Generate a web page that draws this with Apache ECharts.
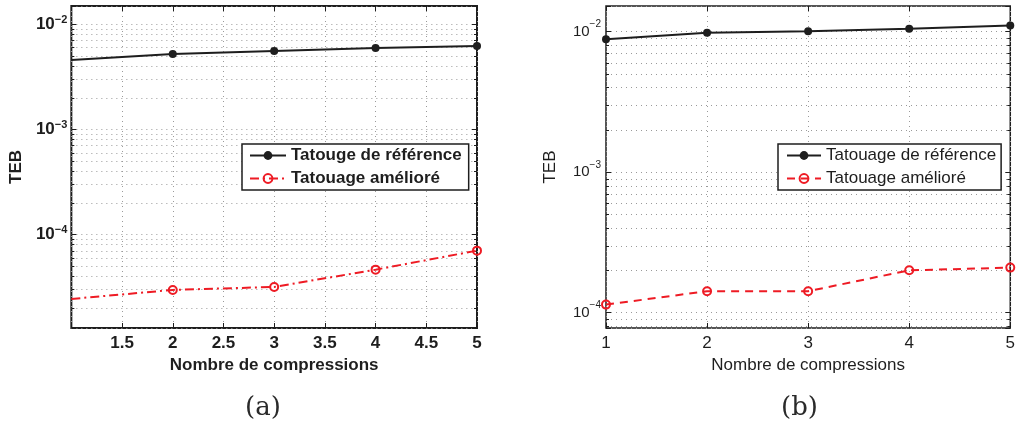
<!DOCTYPE html>
<html>
<head>
<meta charset="utf-8">
<script src="https://cdn.jsdelivr.net/npm/echarts@6/dist/echarts.min.js"></script>
<style>
  html, body { margin: 0; padding: 0; background: #fff; }
  #wrap { position: relative; width: 1018px; height: 430px; }
  #chartA { position: absolute; left: 0; top: 0; width: 509px; height: 430px; }
  #chartB { position: absolute; left: 509px; top: 0; width: 509px; height: 430px; }
</style>
</head>
<body>
<div id="wrap"><div id="chartA"></div><div id="chartB"></div></div>
<script>
// ---- data: bit error rate (TEB) vs. number of compressions ----
const compressionsA = [1, 2, 3, 4, 5];
const referenceA = [4.55e-3, 5.2e-3, 5.57e-3, 5.94e-3, 6.2e-3];
const improvedA = [2.42e-5, 2.95e-5, 3.15e-5, 4.6e-5, 6.98e-5];

const compressionsB = [1, 2, 3, 4, 5];
const referenceB = [8.83e-3, 9.8e-3, 1.006e-2, 1.045e-2, 1.104e-2];
const improvedB = [1.14e-4, 1.42e-4, 1.42e-4, 2.0e-4, 2.09e-4];

const seriesNamesA = ['Tatouge de référence', 'Tatouage amélioré'];
const seriesNamesB = ['Tatouage de référence', 'Tatouage amélioré'];

// tick labels
const xTickLabelsA = ['1.5', '2', '2.5', '3', '3.5', '4', '4.5', '5'];
const xTickLabelsB = ['1', '2', '3', '4', '5'];
const yDecadesA = [-4, -3, -2];
const yDecadesB = [-4, -3, -2];

// axis ranges
const xRangeA = [1, 5];
const xRangeB = [1, 5];
const yRangeA = [1.28e-5, 1.49e-2];
const yRangeB = [7.77e-5, 1.52e-2];

// minor log grid: 2..9 times each decade
const minorSteps = [2, 3, 4, 5, 6, 7, 8, 9];
const minorDecadesA = [-5, -4, -3, -2];
const minorDecadesB = [-5, -4, -3, -2];

const RED = '#ee1b24';
const INK = '#1e1e1e';
const GRID = '#9a9a9a';
const DOTS = [1, 4];
const SANS = '"Liberation Sans", Arial, Helvetica, sans-serif';

function minorValues(decades, range) {
  const out = [];
  decades.forEach(function (d) {
    minorSteps.forEach(function (m) {
      const v = m * Math.pow(10, d);
      if (v > range[0] && v < range[1]) out.push(v);
    });
  });
  return out;
}

function pairs(xs, ys) {
  return xs.map(function (x, i) { return [x, ys[i]]; });
}

function decadeFormatter(decades) {
  return function (v) {
    const e = Math.log10(v);
    const r = Math.round(e);
    if (Math.abs(e - r) > 1e-6 || decades.indexOf(r) < 0) return '';
    return '{b|10}{s|' + (r < 0 ? '\u2212' : '') + Math.abs(r) + '}';
  };
}

// dotted minor grid line across the plot plus short inside ticks on both y sides
function minorGridItem(xRange) {
  return function (params, api) {
    const v = api.value(1);
    const p1 = api.coord([xRange[0], v]);
    const p2 = api.coord([xRange[1], v]);
    const y = Math.round(p1[1]) + 0.5;
    return {
      type: 'group',
      children: [
        { type: 'line', shape: { x1: p1[0], y1: y, x2: p2[0], y2: y },
          style: { stroke: GRID, lineWidth: 1, lineDash: DOTS }, silent: true },
        { type: 'line', shape: { x1: p1[0], y1: y, x2: p1[0] + 3, y2: y },
          style: { stroke: INK, lineWidth: 1 }, silent: true },
        { type: 'line', shape: { x1: p2[0] - 3, y1: y, x2: p2[0], y2: y },
          style: { stroke: INK, lineWidth: 1 }, silent: true }
      ]
    };
  };
}

function buildOption(cfg) {
  const minor = minorValues(cfg.minorDecades, cfg.yRange);
  const tickLabelStyle = {
    fontFamily: SANS, fontSize: cfg.tickSize, fontWeight: cfg.weight, color: INK
  };
  const refData = pairs(cfg.xs, cfg.ref);
  const impData = pairs(cfg.xs, cfg.imp);
  if (cfg.hideFirstMarker) {
    refData[0] = { value: refData[0], symbol: 'none' };
    impData[0] = { value: impData[0], symbol: 'none' };
  }
  const xBase = {
    type: 'value', min: cfg.xRange[0], max: cfg.xRange[1], interval: cfg.xInterval,
    axisLine: { show: false },
    axisTick: { show: true, inside: true, length: 5, lineStyle: { color: INK, width: 1 } }
  };
  const yBase = {
    type: 'log', logBase: 10, min: cfg.yRange[0], max: cfg.yRange[1],
    axisLine: { show: false },
    axisTick: { show: true, inside: true, length: 5, lineStyle: { color: INK, width: 1 } }
  };
  return {
    animation: false,
    backgroundColor: '#fff',
    grid: {
      left: cfg.grid[0], right: cfg.grid[1], top: cfg.grid[2], bottom: cfg.grid[3],
      show: true, borderColor: INK, borderWidth: cfg.border, backgroundColor: '#fff'
    },
    xAxis: [
      Object.assign({}, xBase, {
        position: 'bottom',
        name: 'Nombre de compressions',
        nameLocation: 'middle',
        nameGap: cfg.xNameGap,
        nameTextStyle: { fontFamily: SANS, fontSize: 17, fontWeight: cfg.weight, color: INK },
        axisLabel: {
          margin: cfg.xLabelMargin,
          fontFamily: SANS, fontSize: 17, fontWeight: cfg.weight, color: INK,
          formatter: function (v) {
            const s = String(Math.round(v * 100) / 100);
            return cfg.xLabels.indexOf(s) >= 0 ? s : '';
          }
        },
        splitLine: { show: true, lineStyle: { color: GRID, width: 1, type: DOTS } }
      }),
      Object.assign({}, xBase, {
        position: 'top', axisLabel: { show: false }, splitLine: { show: false }
      })
    ],
    yAxis: [
      Object.assign({}, yBase, {
        position: 'left',
        name: 'TEB',
        nameLocation: 'middle',
        nameGap: cfg.yNameGap,
        nameTextStyle: { fontFamily: SANS, fontSize: 17, fontWeight: cfg.weight, color: INK },
        axisLabel: {
          margin: cfg.yLabelMargin,
          formatter: decadeFormatter(cfg.decades),
          rich: {
            b: Object.assign({}, tickLabelStyle, { lineHeight: cfg.supLine[0], verticalAlign: 'middle' }),
            s: Object.assign({}, tickLabelStyle, { fontSize: cfg.supSize, lineHeight: cfg.supLine[1], verticalAlign: 'top' })
          }
        },
        splitLine: { show: true, lineStyle: { color: GRID, width: 1, type: DOTS } }
      }),
      Object.assign({}, yBase, {
        position: 'right', axisLabel: { show: false }, splitLine: { show: false }
      })
    ],
    legend: {
      data: cfg.names,
      orient: 'vertical',
      left: cfg.legendPos[0], top: cfg.legendPos[1],
      padding: cfg.legendPadding,
      itemGap: 6,
      itemWidth: cfg.legendIcon[0], itemHeight: cfg.legendIcon[1],
      backgroundColor: '#fff',
      borderColor: INK, borderWidth: 1.5, borderRadius: 0,
      selectedMode: false,
      textStyle: { fontFamily: SANS, fontSize: 17, lineHeight: 17, fontWeight: cfg.weight, color: INK }
    },
    series: [
      {
        name: 'minor-grid', type: 'custom', z: 1, silent: true,
        xAxisIndex: 0, yAxisIndex: 0,
        encode: { x: 0, y: 1 },
        clip: false,
        renderItem: minorGridItem(cfg.xRange),
        data: minor.map(function (v) { return [cfg.xRange[0], v]; })
      },
      {
        name: cfg.names[0], type: 'line', data: refData, z: 3,
        xAxisIndex: 0, yAxisIndex: 0,
        symbol: 'circle', symbolSize: 8, clip: true,
        itemStyle: { color: INK },
        lineStyle: { color: INK, width: 2 }
      },
      {
        name: cfg.names[1], type: 'line', data: impData, z: 3,
        xAxisIndex: 0, yAxisIndex: 0,
        symbol: 'circle', symbolSize: cfg.redSize, clip: true,
        itemStyle: { color: 'rgba(255,255,255,0)', borderColor: RED, borderWidth: 2 },
        lineStyle: { color: RED, width: 2, type: cfg.redDash }
      }
    ],
    graphic: [{
      type: 'text', left: cfg.caption[1], top: 395,
      style: { text: cfg.caption[0], font: '26px "DejaVu Serif", "Liberation Serif", serif', fill: '#2a2a2a' }
    }]
  };
}

const chartA = echarts.init(document.getElementById('chartA'), null, { renderer: 'canvas' });
chartA.setOption(buildOption({
  xs: compressionsA, ref: referenceA, imp: improvedA, names: seriesNamesA,
  xRange: xRangeA, xInterval: 0.5, xLabels: xTickLabelsA,
  yRange: yRangeA, decades: yDecadesA, minorDecades: minorDecadesA,
  grid: [69, 32, 6, 102], border: 2, weight: 'bold',
  tickSize: 17, supSize: 11, supLine: [20, 8],
  xNameGap: 25, xLabelMargin: 7, yNameGap: 45, yLabelMargin: 4,
  legendPos: [242, 144], legendPadding: [3, 7, 3, 7], legendIcon: [36, 11],
  redSize: 8, redDash: [9, 4, 2, 4], hideFirstMarker: true,
  caption: ['(a)', 245]
}));

const chartB = echarts.init(document.getElementById('chartB'), null, { renderer: 'canvas' });
chartB.setOption(buildOption({
  xs: compressionsB, ref: referenceB, imp: improvedB, names: seriesNamesB,
  xRange: xRangeB, xInterval: 1, xLabels: xTickLabelsB,
  yRange: yRangeB, decades: yDecadesB, minorDecades: minorDecadesB,
  grid: [97, 5, 6, 102], border: 1.5, weight: 'normal',
  tickSize: 15, supSize: 10, supLine: [24, 6],
  xNameGap: 25, xLabelMargin: 7, yNameGap: 47, yLabelMargin: 5,
  legendPos: [269, 144], legendPadding: [3, 5, 3, 8], legendIcon: [34, 11],
  redSize: 8, redDash: [8, 6], hideFirstMarker: false,
  caption: ['(b)', 272]
}));
</script>
</body>
</html>
